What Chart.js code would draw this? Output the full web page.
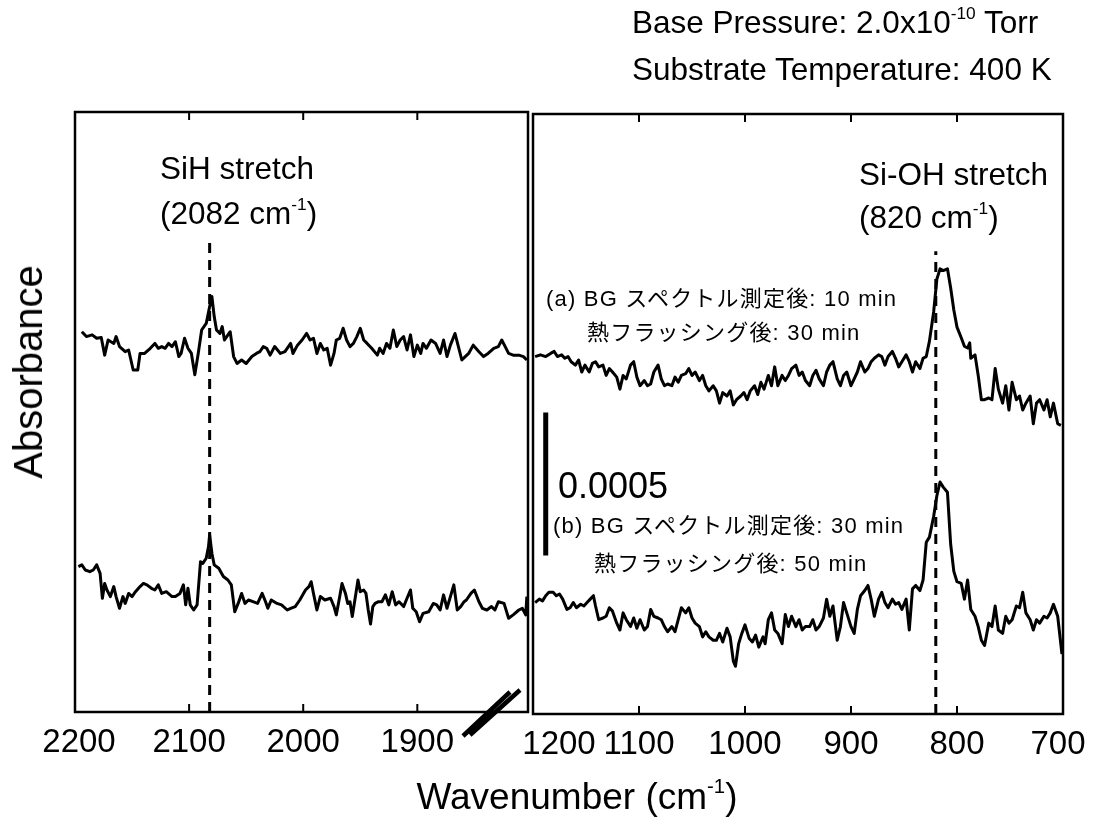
<!DOCTYPE html>
<html>
<head>
<meta charset="utf-8">
<title>IRAS spectra</title>
<script src="https://cdn.jsdelivr.net/npm/chart.js@4.4.0/dist/chart.umd.min.js"></script>
<style>
  body { margin: 0; background: #fff; }
  #page { position: relative; width: 1102px; height: 831px; overflow: hidden; background: #fff;
          font-family: "Liberation Sans", Arial, "Noto Sans CJK JP", sans-serif; color: #000; }
  canvas { position: absolute; left: 0; top: 0; }
  .t { position: absolute; white-space: nowrap; line-height: 1; }
  .big { font-size: 31.5px; }
  .jp { font-size: 22px; font-family: "Liberation Sans", Arial, "Noto Sans CJK JP", sans-serif; letter-spacing: 1.2px; }
  sup { font-size: 0.55em; vertical-align: 0.8em; line-height: 0; }
</style>
</head>
<body>
<div id="page">
  <canvas id="left" width="1102" height="831"></canvas>
  <canvas id="right" width="1102" height="831"></canvas>

  <div class="t big" style="left:632px; top:7px;">Base Pressure: 2.0x10<sup>-10</sup> Torr</div>
  <div class="t big" style="left:632px; top:54px;">Substrate Temperature: 400 K</div>

  <div class="t big" style="left:160px; top:153px;">SiH stretch</div>
  <div class="t big" style="left:160px; top:198px;">(2082 cm<sup>-1</sup>)</div>
  <div class="t big" style="left:859px; top:159px;">Si-OH stretch</div>
  <div class="t big" style="left:859px; top:202px;">(820 cm<sup>-1</sup>)</div>

  <div class="t jp" style="left:546px; top:288px;">(a) BG スペクトル測定後: 10 min</div>
  <div class="t jp" style="left:587px; top:322px;">熱フラッシング後: 30 min</div>
  <div class="t jp" style="left:553px; top:515px;">(b) BG スペクトル測定後: 30 min</div>
  <div class="t jp" style="left:594px; top:553px;">熱フラッシング後: 50 min</div>

  <div class="t" id="barLabel" style="left:558px; top:468px; font-size:36px;"></div>

  <div class="t" style="left:577px; top:778px; font-size:37px; transform:translateX(-50%);">Wavenumber (cm<sup>-1</sup>)</div>
  <div class="t" style="left:28px; top:372px; font-size:40px; transform:translate(-50%,-50%) rotate(-90deg);">Absorbance</div>
</div>

<script>
// absorbance values are given in units of 1e-4
var UNIT = 1e-4;

// tick labels of the two wavenumber ranges
var ticksLeft = [2200, 2100, 2000, 1900];
var ticksRight = [1200, 1100, 1000, 900, 800, 700];

// SiH region, spectrum (a)
var wnLeftA = [2194,2190,2185,2181,2177,2174,2171,2166,2164,2161,2156,2153,2149,2145,2143,2139,2134,2130,2127,2124,
  2121,2118,2115,2112,2109,2107,2104,2101,2098,2095,2092,2089,2085,2082,2080,2078,2076,2073,2071,2069,
  2067,2064,2061,2058,2054,2050,2045,2041,2038,2035,2032,2029,2025,2020,2016,2011,2009,2005,2001,1997,
  1994,1991,1988,1985,1982,1979,1976,1973,1971,1968,1965,1962,1959,1956,1953,1950,1947,1944,1940,1935,
  1933,1930,1927,1924,1921,1918,1915,1912,1909,1906,1903,1900,1897,1895,1892,1888,1884,1880,1877,1874,
  1871,1867,1864,1861,1858,1855,1851,1846,1842,1838,1833,1829,1826,1823,1820,1816,1811,1807,1804];
var absLeftA = [13.31,13.14,13.20,13.08,13.11,12.49,13.02,12.90,13.14,12.79,12.61,12.67,11.97,11.97,12.55,12.55,12.73,12.90,12.73,12.79,
  12.73,12.90,12.79,12.96,12.44,12.55,13.08,12.73,12.55,11.80,12.55,13.37,13.60,14.19,14.54,13.84,13.37,13.25,13.49,13.02,
  13.14,13.31,12.44,12.20,12.32,12.20,12.44,12.55,12.61,12.79,12.73,12.49,12.79,12.55,12.61,12.90,12.55,12.84,13.02,13.25,
  13.02,13.08,12.55,12.90,12.67,12.73,12.14,12.55,13.02,13.08,13.43,13.02,12.79,12.90,13.14,13.43,13.02,12.90,12.73,12.49,
  12.73,12.55,12.90,12.73,13.37,12.79,13.02,13.14,12.67,13.20,12.44,12.84,12.55,12.90,12.73,13.02,12.90,12.55,13.02,12.44,
  12.84,13.25,12.79,12.32,12.44,12.55,12.84,12.61,12.44,12.55,12.73,12.79,13.02,12.79,12.55,12.49,12.49,12.44,12.32];

// SiH region, spectrum (b)
var wnLeftB = [2197,2194,2191,2187,2184,2181,2178,2176,2174,2172,2169,2166,2164,2161,2158,2156,2153,2150,2147,2143,
  2140,2137,2133,2130,2127,2124,2120,2115,2112,2108,2105,2103,2101,2099,2096,2093,2090,2088,2085,2083,
  2082,2080,2078,2074,2070,2066,2063,2060,2057,2054,2051,2048,2044,2040,2036,2033,2031,2028,2023,2019,
  2014,2011,2007,2003,1998,1995,1993,1991,1988,1985,1981,1976,1973,1971,1968,1966,1963,1961,1959,1957,
  1954,1952,1950,1947,1945,1943,1941,1939,1937,1934,1931,1928,1925,1922,1919,1916,1912,1909,1906,1904,
  1901,1898,1895,1890,1886,1883,1880,1877,1874,1871,1868,1865,1862,1859,1857,1853,1850,1846,1843,1839,
  1835,1832,1829,1824,1820,1816,1811,1808,1805,1804];
var absLeftB = [5.09,5.15,4.97,4.91,4.97,5.15,4.85,3.98,4.50,4.27,4.04,4.39,4.04,3.63,4.04,3.80,4.15,4.04,4.21,4.39,
  4.50,4.45,4.33,4.27,4.45,4.15,4.21,4.04,4.04,4.15,4.45,3.75,4.33,3.75,3.57,3.75,5.26,5.20,5.38,5.79,
  6.20,5.55,5.15,5.03,4.74,4.62,4.45,3.51,3.80,4.15,3.80,3.92,3.86,3.80,4.15,3.86,3.63,3.92,3.80,3.75,
  3.57,3.63,3.69,3.92,4.27,4.39,4.56,4.15,3.57,4.04,3.92,3.98,3.69,3.40,4.04,4.50,4.15,3.80,3.86,3.34,
  4.10,4.62,4.21,4.27,4.15,3.57,3.08,3.69,3.80,3.86,3.86,4.10,3.75,4.21,3.75,3.86,3.69,3.98,4.27,3.63,
  3.51,3.16,3.45,3.51,3.80,3.75,3.57,4.10,3.63,4.04,4.45,3.57,3.69,3.86,3.92,4.15,4.27,3.86,3.63,3.57,
  3.69,3.57,3.86,3.80,3.28,3.40,3.57,3.63,3.40,4.04];

// Si-OH region, spectrum (a)
var wnRightA = [1198,1193,1188,1183,1180,1177,1173,1170,1167,1164,1160,1157,1154,1151,1147,1144,1141,1138,1134,1131,
  1128,1125,1121,1118,1115,1112,1108,1105,1102,1099,1095,1092,1089,1086,1082,1079,1076,1073,1069,1066,
  1063,1060,1056,1053,1050,1047,1043,1040,1037,1034,1030,1027,1024,1021,1017,1014,1011,1008,1004,1001,
  998,995,991,988,985,982,978,975,972,969,965,962,959,956,952,949,946,943,939,936,
  933,930,926,923,920,917,913,910,907,904,900,897,894,891,887,884,881,878,874,871,
  868,865,861,858,855,852,848,845,842,839,835,832,829,826,822,819,816,813,809,806,
  803,800,796,793,790,788,787,783,780,777,774,770,767,764,761,757,754,751,748,744,
  741,738,735,731,728,725,722,718,715,712,709,705,702];
var absRightA = [12.51,12.57,12.51,12.63,12.69,12.51,12.57,12.45,12.51,12.33,12.21,12.39,11.97,12.21,11.97,12.27,12.33,12.15,12.21,11.85,
  12.09,11.97,11.79,11.37,11.85,11.73,12.21,12.33,11.79,11.49,11.67,11.49,11.55,11.97,12.21,11.73,11.49,11.55,11.49,11.79,
  11.61,11.85,11.91,12.09,11.85,11.97,11.67,11.85,11.49,11.31,11.49,11.31,10.88,11.25,11.13,11.31,10.82,11.00,11.13,11.25,
  11.00,11.31,11.49,11.18,11.61,11.37,11.85,11.49,12.15,11.49,11.85,11.67,11.85,12.09,12.21,11.85,11.97,11.67,11.49,11.85,
  12.03,11.73,11.49,11.97,12.21,12.33,11.73,11.49,11.85,11.97,11.49,11.73,11.97,12.33,11.97,12.09,12.33,12.45,12.57,12.51,
  12.21,12.51,12.69,12.45,12.15,12.33,12.57,12.33,11.97,12.33,12.09,12.45,12.51,13.05,14.08,15.22,15.58,15.52,15.58,14.92,
  14.14,13.54,13.17,12.87,12.81,12.99,12.45,12.57,11.85,11.00,11.00,11.06,11.00,12.09,11.37,10.88,11.49,10.64,11.61,11.00,
  11.13,10.64,10.88,11.13,10.16,10.88,11.00,10.64,11.00,10.40,10.88,10.16,10.10];

// Si-OH region, spectrum (b)
var wnRightB = [1198,1194,1191,1188,1185,1181,1178,1175,1172,1168,1165,1162,1159,1155,1152,1149,1146,1143,1141,1138,
  1134,1131,1128,1125,1121,1118,1115,1112,1108,1105,1102,1099,1095,1092,1089,1086,1082,1079,1076,1073,
  1069,1066,1063,1060,1056,1053,1050,1047,1043,1040,1037,1034,1030,1027,1024,1021,1017,1014,1011,1009,
  1006,1003,1000,996,993,990,987,983,981,978,975,972,969,965,962,959,956,952,949,946,
  943,939,936,933,930,926,923,920,917,913,910,907,904,900,897,894,891,887,884,881,
  878,874,871,868,865,861,858,855,852,848,845,842,839,835,832,829,826,822,819,816,
  813,809,806,803,800,796,793,790,787,783,780,777,774,770,767,764,761,757,754,751,
  748,744,741,738,735,731,728,725,722,718,715,712,709,705,701];
var absRightB = [3.90,4.02,3.96,4.14,4.26,4.26,4.14,4.20,4.02,3.66,3.72,3.90,3.72,3.84,3.78,3.90,4.02,4.14,3.78,3.30,
  3.36,3.42,3.72,3.60,3.18,2.94,3.54,3.30,3.06,3.36,3.00,3.30,2.94,3.06,3.66,3.42,3.36,3.30,3.06,2.88,
  3.06,2.88,3.30,3.72,3.54,3.72,3.36,3.18,3.06,2.70,2.88,2.70,2.58,2.58,2.82,2.52,3.00,2.70,1.85,1.67,
  2.46,2.82,3.12,2.64,2.52,2.76,2.34,2.70,2.46,3.30,3.54,2.94,2.82,2.46,3.48,3.06,3.42,3.06,3.30,2.94,
  3.06,3.06,3.30,2.94,3.06,3.36,4.02,3.42,3.78,2.58,3.06,3.90,3.54,3.06,2.82,3.66,4.14,4.32,4.50,4.02,
  3.42,4.02,4.26,3.90,3.72,4.02,3.84,3.90,3.66,4.02,2.94,4.38,4.50,4.32,4.69,6.01,6.19,6.92,7.64,8.12,
  7.94,7.76,5.95,4.99,4.63,4.57,4.02,4.69,3.66,3.42,3.06,2.58,2.40,3.18,3.06,3.78,2.94,2.82,3.42,3.18,
  3.30,3.78,3.72,4.26,3.54,3.30,2.94,3.30,3.18,3.42,3.36,3.54,3.84,3.42,2.10];

// band positions (cm-1) and the height the dashed guide reaches
var bandSiH = 2082, bandSiHTop = 16.6;
var bandSiOH = 820, bandSiOHTop = 16.2;

// vertical scale bar
var barWn = 1188, barBase = 5.55, barSize = 0.0005;

var yMax = 21;  // panel height, same units as above

function pts(xs, ys) {
  return xs.map(function (x, i) { return { x: x, y: ys[i] * UNIT }; });
}

function trace(data) {
  return { data: data, borderColor: '#000', borderWidth: 3, pointRadius: 0, tension: 0, fill: false,
           borderJoinStyle: 'round' };
}

function guide(wn, top) {
  return { data: [{ x: wn, y: 0 }, { x: wn, y: top * UNIT }], borderColor: '#000', borderWidth: 3,
           borderDash: [10, 7], pointRadius: 0, fill: false };
}

// box, inward ticks and tick labels of each panel
var panelFrame = {
  id: 'panelFrame',
  afterDatasetsDraw: function (chart, args, opts) {
    var ctx = chart.ctx, a = chart.chartArea, x = chart.scales.x;
    ctx.save();
    ctx.strokeStyle = '#000';
    ctx.lineWidth = 2.5;
    ctx.strokeRect(a.left, a.top, a.right - a.left, a.bottom - a.top);
    ctx.lineWidth = 2;
    ctx.beginPath();
    x.ticks.forEach(function (t) {
      var px = x.getPixelForValue(t.value);
      if (px <= a.left + 2 || px >= a.right - 2) return;
      ctx.moveTo(px, a.bottom); ctx.lineTo(px, a.bottom - 8);
      ctx.moveTo(px, a.top); ctx.lineTo(px, a.top + 8);
    });
    ctx.stroke();
    ctx.fillStyle = '#000';
    ctx.font = '33px "Liberation Sans", Arial, sans-serif';
    ctx.textAlign = 'center';
    ctx.textBaseline = 'alphabetic';
    x.ticks.forEach(function (t) {
      var shift = (opts.labelShift && opts.labelShift[t.value]) || 0;
      ctx.fillText(String(t.value), x.getPixelForValue(t.value) + shift, a.bottom + 40);
    });
    if (opts.breakMark) {
      ctx.lineWidth = 4.5;
      ctx.lineCap = 'butt';
      ctx.beginPath();
      ctx.moveTo(a.right - 65, a.bottom + 24); ctx.lineTo(a.right - 18, a.bottom - 20);
      ctx.moveTo(a.right - 58, a.bottom + 23); ctx.lineTo(a.right - 8, a.bottom - 22);
      ctx.stroke();
    }
    ctx.restore();
  }
};

function tickSetter(values) {
  return function (scale) {
    scale.ticks = values.map(function (v) { return { value: v }; });
  };
}

function makePanel(id, datasets, xMin, xMax, tickValues, pad, frameOpts) {
  return new Chart(document.getElementById(id), {
    type: 'line',
    data: { datasets: datasets },
    options: {
      responsive: false,
      animation: false,
      devicePixelRatio: 1,
      layout: { padding: pad },
      plugins: { legend: { display: false }, tooltip: { enabled: false }, panelFrame: frameOpts },
      scales: {
        x: { type: 'linear', reverse: true, min: xMin, max: xMax, display: false,
             afterBuildTicks: tickSetter(tickValues) },
        y: { min: 0, max: yMax * UNIT, display: false }
      }
    },
    plugins: [panelFrame]
  });
}

makePanel('left', [
  trace(pts(wnLeftA, absLeftA)),
  trace(pts(wnLeftB, absLeftB)),
  guide(bandSiH, bandSiHTop)
], 1803, 2200, ticksLeft, { left: 75, right: 574, top: 112, bottom: 119 },
  { breakMark: true, labelShift: { 2200: 4 } });

makePanel('right', [
  trace(pts(wnRightA, absRightA)),
  trace(pts(wnRightB, absRightB)),
  guide(bandSiOH, bandSiOHTop),
  { data: [{ x: barWn, y: barBase * UNIT }, { x: barWn, y: barBase * UNIT + barSize }],
    borderColor: '#000', borderWidth: 5, pointRadius: 0, borderCapStyle: 'butt', fill: false }
], 700, 1200, ticksRight, { left: 533, right: 39, top: 114, bottom: 117 },
  { labelShift: { 1200: 26, 700: -5 } });

document.getElementById('barLabel').textContent = barSize.toFixed(4);
</script>
</body>
</html>
